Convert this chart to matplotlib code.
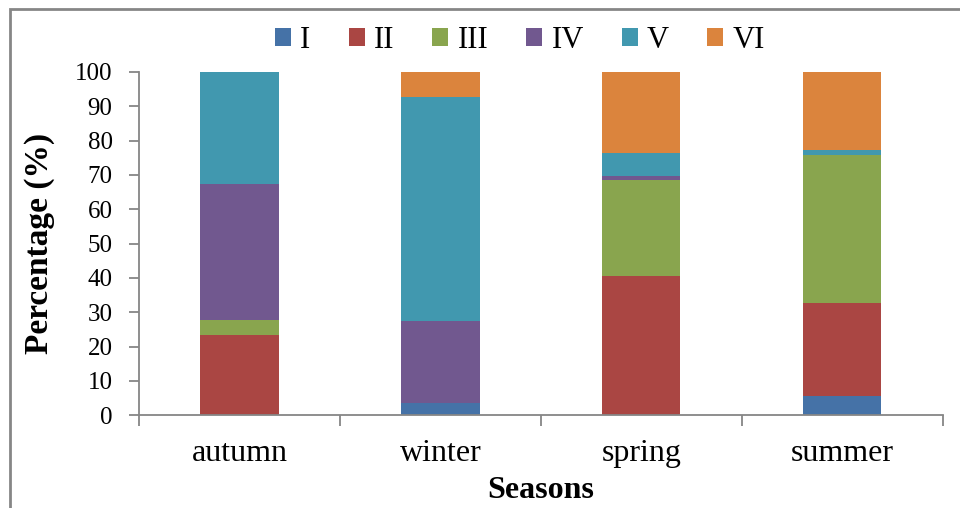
import matplotlib
matplotlib.use('Agg')
import matplotlib.pyplot as plt
from matplotlib.patches import Rectangle
import numpy as np

plt.rcParams['font.family'] = ['Liberation Serif', 'DejaVu Serif']

seasons = ['autumn', 'winter', 'spring', 'summer']
groups = ['I', 'II', 'III', 'IV', 'V', 'VI']
# percentage share of each group per season
share = {
    'I':   [0.0, 3.5, 0.0, 5.7],
    'II':  [23.3, 0.0, 40.6, 26.9],
    'III': [4.5, 0.0, 27.9, 43.3],
    'IV':  [39.6, 23.9, 1.2, 0.0],
    'V':   [32.6, 65.4, 6.7, 1.3],
    'VI':  [0.0, 7.2, 23.6, 22.8],
}
colors = ['#4572A7', '#AA4643', '#89A54E', '#71588F', '#4198AF', '#DB843D']
axis_gray = '#868686'

fig = plt.figure(figsize=(9.6, 5.08), dpi=100)
ax = fig.add_axes([139 / 960, 1 - 415.3 / 508, 803.7 / 960, 343.3 / 508])

x = np.arange(len(seasons))
bottom = np.zeros(len(seasons))
for g, c in zip(groups, colors):
    vals = np.array(share[g])
    ax.bar(x, vals, width=0.39, bottom=bottom, color=c, label=g)
    bottom += vals

ax.set_xlim(-0.5, 3.5)
ax.set_ylim(0, 100)
ax.set_yticks(range(0, 101, 10))
ax.set_xticks(x)
ax.set_xticklabels(seasons)
ax.set_xticks(np.arange(-0.5, 4, 1), minor=True)

for side in ('top', 'right'):
    ax.spines[side].set_visible(False)
for side in ('left', 'bottom'):
    ax.spines[side].set_color(axis_gray)
    ax.spines[side].set_linewidth(1.3)

ax.tick_params(axis='y', direction='out', length=7, width=1.3, color=axis_gray,
               labelsize=18, pad=12)
ax.tick_params(axis='x', which='major', length=0, labelsize=23, pad=17)
ax.tick_params(axis='x', which='minor', direction='out', length=8, width=1.3,
               color=axis_gray)

fig.text(40 / 960, 1 - 243 / 508, 'Percentage (%)', rotation=90, ha='center',
         va='center', fontsize=24, fontweight='bold')
fig.text(541 / 960, 1 - 490 / 508, 'Seasons', ha='center', va='center',
         fontsize=23, fontweight='bold')

fig.legend(loc='center', bbox_to_anchor=(520 / 960, 1 - 40 / 508), ncol=6,
           frameon=False, fontsize=22, handlelength=0.52, handleheight=0.52,
           handletextpad=0.3, columnspacing=1.25, borderaxespad=0)

# outer chart border
fig.patches.append(Rectangle((10 / 960, -0.05), 1.1, 1 - 9 / 508 + 0.05,
                             transform=fig.transFigure, fill=False,
                             edgecolor=axis_gray, linewidth=2))

fig.savefig('out.png', dpi=100)
